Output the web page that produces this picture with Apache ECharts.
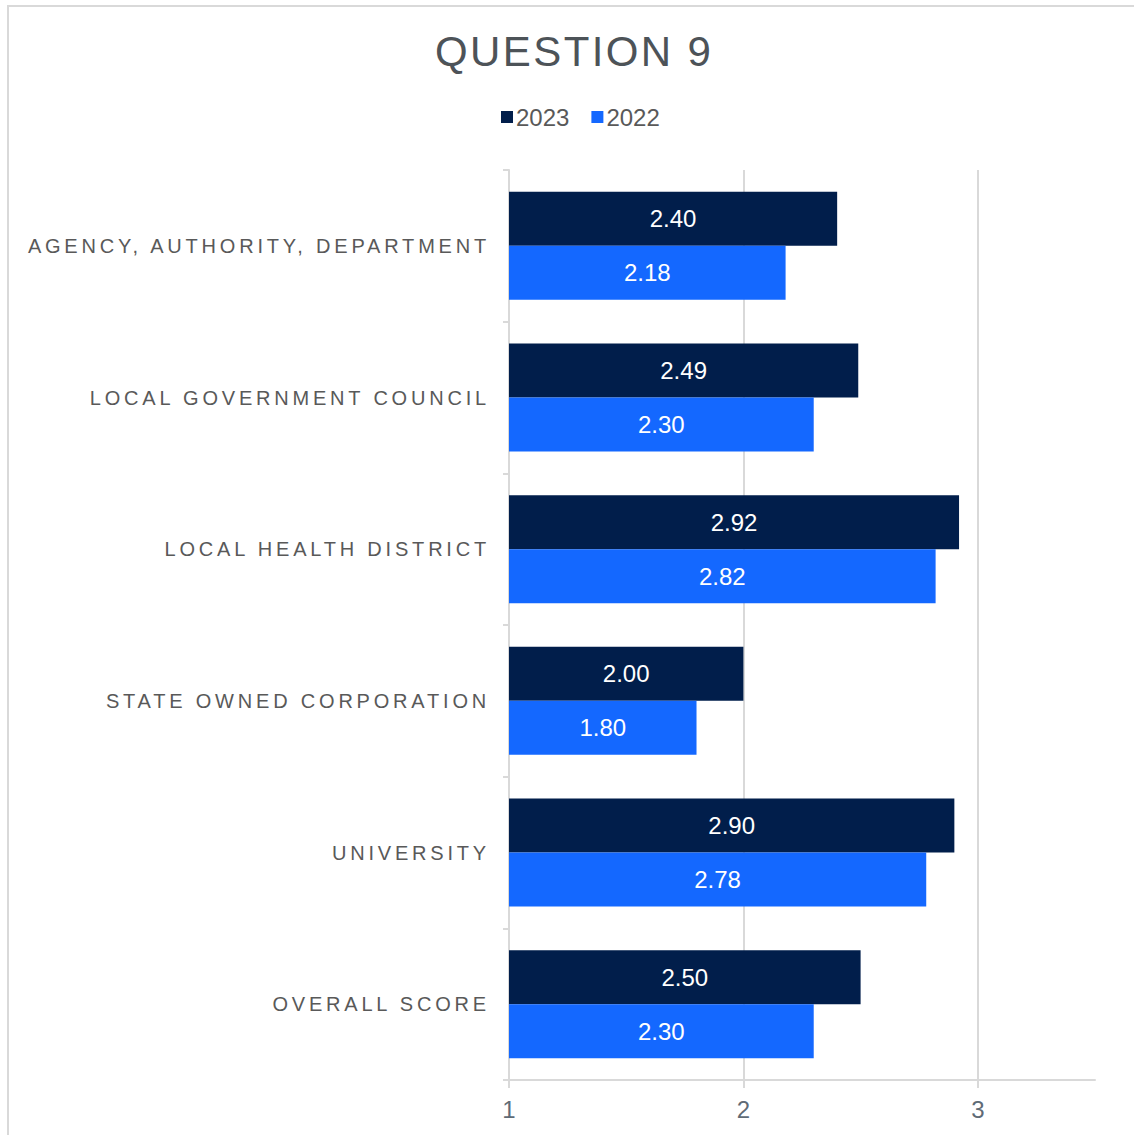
<!DOCTYPE html>
<html>
<head>
<meta charset="utf-8">
<title>Question 9</title>
<script src="https://cdn.jsdelivr.net/npm/echarts@6/dist/echarts.min.js"></script>
<style>
  html, body { margin: 0; padding: 0; background: #ffffff; }
  #chart { width: 1134px; height: 1135px; }
  /* spaced capitals for the category labels and the title */
  #chart text[style*="Arimo"] { letter-spacing: 3.8px; }
  #chart text[style*="Helvetica"] { letter-spacing: 2.4px; }
</style>
</head>
<body>
<div id="chart"></div>
<script>
const categories = [
  'AGENCY, AUTHORITY, DEPARTMENT',
  'LOCAL GOVERNMENT COUNCIL',
  'LOCAL HEALTH DISTRICT',
  'STATE OWNED CORPORATION',
  'UNIVERSITY',
  'OVERALL SCORE'
];
const values2023 = [2.40, 2.49, 2.92, 2.00, 2.90, 2.50];
const values2022 = [2.18, 2.30, 2.82, 1.80, 2.78, 2.30];
const xTicks = [1, 2, 3];
const xMin = 1;
const xMax = 3.5;

const baseFont = "'Liberation Sans', sans-serif";
const textGrey = '#595959';
const lineGrey = '#D9D9D9';

const chart = echarts.init(document.getElementById('chart'), null, { renderer: 'svg' });

const barLabel = {
  show: true,
  position: 'inside',
  color: '#ffffff',
  fontSize: 24,
  fontFamily: baseFont,
  formatter: p => p.value.toFixed(2)
};

chart.setOption({
  animation: false,
  backgroundColor: '#ffffff',
  title: {
    text: 'QUESTION 9',
    left: 430,
    top: 25,
    textStyle: {
      fontSize: 42,
      fontWeight: 'normal',
      color: '#4D5358',
      fontFamily: "'Liberation Sans', Helvetica, sans-serif"
    }
  },
  legend: {
    data: ['2023', '2022'],
    left: 496,
    top: 100,
    icon: 'rect',
    itemWidth: 12,
    itemHeight: 12,
    itemGap: 22,
    textStyle: { fontSize: 24, color: textGrey, fontFamily: baseFont, padding: [0, 0, 0, -2] }
  },
  graphic: [{
    type: 'rect',
    shape: { x: 8, y: 6, width: 1400, height: 1400 },
    style: { fill: 'none', stroke: lineGrey, lineWidth: 2 },
    silent: true,
    z: -10
  }],
  grid: { left: 509, right: 39, top: 170, bottom: 55, containLabel: false },
  xAxis: {
    type: 'value',
    min: xMin,
    max: xMax,
    interval: 1,
    axisLine: { show: true, lineStyle: { color: lineGrey, width: 2 } },
    axisTick: { show: true, length: 8, customValues: xTicks, lineStyle: { color: lineGrey, width: 2 } },
    axisLabel: { customValues: xTicks, fontSize: 24, color: '#5F6B76', fontFamily: baseFont, margin: 17 },
    splitLine: { show: false }
  },
  yAxis: {
    type: 'category',
    data: categories,
    inverse: true,
    axisLine: { show: true, lineStyle: { color: lineGrey, width: 2 } },
    axisTick: { show: true, length: 6, lineStyle: { color: lineGrey, width: 2 } },
    axisLabel: {
      fontSize: 20,
      color: textGrey,
      margin: 19,
      fontFamily: "'Liberation Sans', Arimo, sans-serif"
    }
  },
  series: [
    {
      name: '2023',
      type: 'bar',
      z: 3,
      data: values2023,
      barWidth: 54,
      barGap: '0%',
      itemStyle: { color: '#011E4B' },
      label: barLabel,
      markLine: {
        silent: true,
        z: 1,
        symbol: 'none',
        label: { show: false },
        lineStyle: { color: lineGrey, type: 'solid', width: 2 },
        data: xTicks.filter(v => v > xMin).map(v => ({ xAxis: v }))
      }
    },
    {
      name: '2022',
      type: 'bar',
      z: 3,
      data: values2022,
      barWidth: 54,
      barGap: '0%',
      itemStyle: { color: '#1468FF' },
      label: barLabel
    }
  ]
});
</script>
</body>
</html>
